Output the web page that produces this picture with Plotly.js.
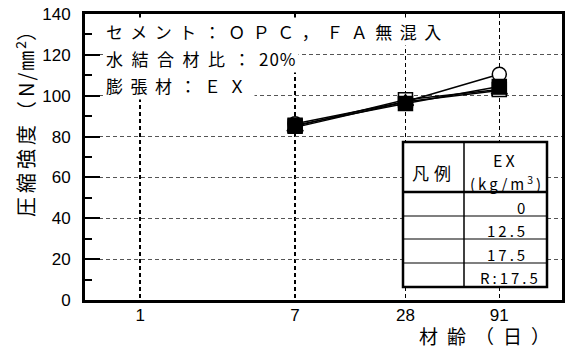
<!DOCTYPE html>
<html>
<head>
<meta charset="utf-8">
<script src="https://cdn.plot.ly/plotly-3.0.1.min.js"></script>
<style>
  html, body { margin: 0; padding: 0; background: #fff; }
  #chart { width: 568px; height: 350px; }
</style>
</head>
<body>
<div id="chart"></div>
<script>
// Age at test (days) and compressive strength (N/mm2) per EX dosage
const ages = [7, 28, 91];
const ageLabels = ['1', '7', '28', '91'];
const ageTicks = [1, 7, 28, 91];
const exDosages = ['0', '12.5', '17.5', 'R:17.5'];
const strengthEx0 = [86.3, 97, 110.5];
const strengthEx125 = [85, 98, 103];
const strengthEx175 = [84.5, 97, 102.5];
const strengthR175 = [85.6, 96.2, 104.5];
const yTicks = [0, 20, 40, 60, 80, 100, 120, 140];

const seriesValues = [strengthEx0, strengthEx125, strengthEx175, strengthR175];

// marker styles per series
const markerSymbols = ['circle', 'square', 'triangle-up', 'square'];
const markerFills = ['#ffffff', '#ffffff', '#ffffff', '#000000'];

const JP = '"Noto Sans CJK JP", "Noto Sans", sans-serif';
const LAT = '"Liberation Sans", Arial, sans-serif';

// plot-area geometry in pixels
const M = { l: 85, r: 6, t: 14, b: 50 };
const W = 568, H = 350;
const PW = W - M.l - M.r, PH = H - M.t - M.b;
const px = x => (x - M.l) / PW;
const py = y => (H - M.b - y) / PH;

const traces = seriesValues.map((vals, i) => ({
  x: ages,
  y: vals,
  name: exDosages[i],
  type: 'scatter',
  mode: 'lines+markers',
  line: { color: '#000', width: 1.5 },
  marker: {
    symbol: markerSymbols[i],
    size: 14,
    color: markerFills[i],
    line: { color: '#000', width: 1.5 }
  },
  showlegend: false
}));

const sp = (s, ls) => `<span style="letter-spacing:${ls}px">${s}</span>`;

const annotations = [];

// condition notes, top-left inside the plot
[
  [sp('セメント：ＯＰＣ，ＦＡ無混入', 7.5), 32],
  [sp('水結合材比：', 8.5) + sp('20%', 1), 58],
  [sp('膨張材：ＥＸ', 7.5), 85]
].forEach(([t, y]) => annotations.push({
  xref: 'paper', yref: 'paper', x: px(104), y: py(y),
  xanchor: 'left', yanchor: 'middle', showarrow: false,
  text: t, bgcolor: '#ffffff', borderpad: 1,
  font: { family: JP, size: 17, color: '#000' }
}));

// axis titles
annotations.push({
  xref: 'paper', yref: 'paper', x: px(25), y: py(119),
  xanchor: 'center', yanchor: 'middle', showarrow: false, textangle: -90,
  text: sp('圧縮強度（', 4) + sp('N/㎜', 2) + '<sup>2</sup>）',
  font: { family: JP, size: 20, color: '#000' }
});
annotations.push({
  xref: 'paper', yref: 'paper', x: px(489), y: py(335),
  xanchor: 'center', yanchor: 'middle', showarrow: false,
  text: sp('材齢（日）', 9),
  font: { family: JP, size: 19, color: '#000' }
});

// legend table
const T = { x0: 403, x1: 547, y0: 142, y1: 287, xc: 464, yh: 192, rows: [216, 239, 263] };
const shapes = [];
shapes.push({
  type: 'rect', xref: 'paper', yref: 'paper', layer: 'above',
  x0: px(T.x0), x1: px(T.x1), y0: py(T.y0), y1: py(T.y1),
  fillcolor: '#ffffff', line: { color: '#000', width: 2.5 }
});
shapes.push({
  type: 'line', xref: 'paper', yref: 'paper', layer: 'above',
  x0: px(T.x0), x1: px(T.x1), y0: py(T.yh), y1: py(T.yh),
  line: { color: '#000', width: 2.5 }
});
shapes.push({
  type: 'line', xref: 'paper', yref: 'paper', layer: 'above',
  x0: px(T.xc), x1: px(T.xc), y0: py(T.y0), y1: py(T.y1),
  line: { color: '#000', width: 1.5 }
});
T.rows.forEach(y => shapes.push({
  type: 'line', xref: 'paper', yref: 'paper', layer: 'above',
  x0: px(T.x0), x1: px(T.x1), y0: py(y), y1: py(y),
  line: { color: '#000', width: 1.2 }
}));

annotations.push({
  xref: 'paper', yref: 'paper', x: px(434), y: py(172),
  xanchor: 'center', yanchor: 'middle', showarrow: false,
  text: sp('凡例', 5), font: { family: JP, size: 17, color: '#000' }
});
annotations.push({
  xref: 'paper', yref: 'paper', x: px(505), y: py(160),
  xanchor: 'center', yanchor: 'middle', showarrow: false,
  text: sp('EX', 3), font: { family: JP, size: 16, color: '#000' }
});
annotations.push({
  xref: 'paper', yref: 'paper', x: px(507), y: py(183),
  xanchor: 'center', yanchor: 'middle', showarrow: false,
  text: sp('(kg/m<sup>3</sup>)', 3), font: { family: JP, size: 15, color: '#000' }
});
const rowCenters = [207, 230, 254, 277];
const rowRight = [530, 530, 530, 543];
exDosages.forEach((d, i) => annotations.push({
  xref: 'paper', yref: 'paper', x: px(rowRight[i]), y: py(rowCenters[i]),
  xanchor: 'right', yanchor: 'middle', showarrow: false,
  text: sp(d, 3), font: { family: JP, size: 15, color: '#000' }
}));

const layout = {
  width: W, height: H,
  margin: M,
  paper_bgcolor: '#ffffff', plot_bgcolor: '#ffffff',
  showlegend: false,
  xaxis: {
    type: 'log',
    range: [Math.log10(0.5), Math.log10(200)],
    tickvals: ageTicks, ticktext: ageLabels,
    ticks: '',
    showgrid: true, gridcolor: '#000', gridwidth: 1.6, griddash: '4px,3px',
    showline: true, linecolor: '#000', linewidth: 3, mirror: true,
    zeroline: false,
    ticklabelstandoff: -2,
    tickfont: { family: LAT, size: 17, color: '#000' }
  },
  yaxis: {
    range: [0, 140],
    tickvals: yTicks,
    ticks: 'inside', ticklen: 15, tickwidth: 2, tickcolor: '#000',
    minor: { dtick: 10, tick0: 0, ticks: 'inside', ticklen: 7, tickwidth: 2, tickcolor: '#000', showgrid: false },
    showgrid: true, gridcolor: '#555', gridwidth: 1, griddash: '4px,3px',
    showline: true, linecolor: '#000', linewidth: 3, mirror: true,
    zeroline: false,
    ticklabelstandoff: 8,
    tickfont: { family: LAT, size: 17, color: '#000' }
  },
  shapes: shapes,
  annotations: annotations
};

Plotly.newPlot('chart', traces, layout, { staticPlot: true, displayModeBar: false });
</script>
</body>
</html>
